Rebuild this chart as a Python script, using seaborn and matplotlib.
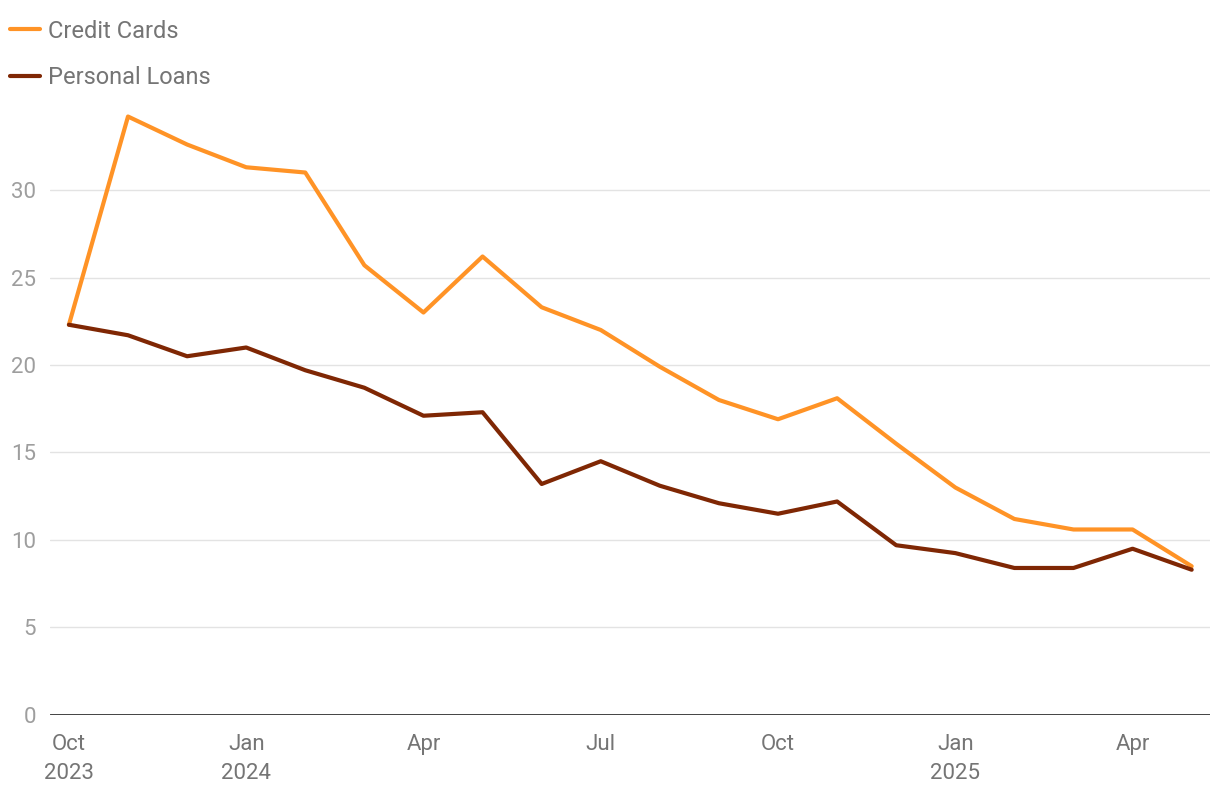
import numpy as np
import pandas as pd
import matplotlib
matplotlib.use("Agg")
import matplotlib.pyplot as plt
import seaborn as sns

months = pd.date_range("2023-10-01", periods=20, freq="MS")
credit_cards = [22.3, 34.2, 32.6, 31.3, 31.0, 25.7, 23.0, 26.2, 23.3, 22.0,
                19.9, 18.0, 16.9, 18.1, 15.5, 13.0, 11.2, 10.6, 10.6, 8.5]
personal_loans = [22.3, 21.7, 20.5, 21.0, 19.7, 18.7, 17.1, 17.3, 13.2, 14.5,
                  13.1, 12.1, 11.5, 12.2, 9.7, 9.25, 8.4, 8.4, 9.5, 8.3]
series_names = ["Credit Cards", "Personal Loans"]
colors = ["#FF9326", "#7F2704"]
y_ticks = [0, 5, 10, 15, 20, 25, 30]

df = pd.DataFrame({
    "idx": np.tile(np.arange(len(months)), 2),
    "value": credit_cards + personal_loans,
    "series": np.repeat(series_names, len(months)),
})

sns.set_theme(style="white")
plt.rcParams["font.family"] = ["Roboto", "DejaVu Sans"]

fig = plt.figure(figsize=(12.2, 7.96), dpi=100)
ax = fig.add_axes([50 / 1220, 0.1018, 1160 / 1220, 0.7694])

sns.lineplot(data=df, x="idx", y="value", hue="series", palette=colors,
             linewidth=3, ax=ax, legend=False)

ax.set_xlim(-0.32, 19.31)
ax.set_ylim(0, 35)
ax.set_yticks(y_ticks)
ax.yaxis.grid(True, color="#e3e3e3", linewidth=1)
ax.set_axisbelow(True)
ax.axhline(0, color="#333333", linewidth=2, zorder=3)

tick_idx = list(range(0, len(months), 3))
tick_labels = []
for i in tick_idx:
    m = months[i]
    lab = m.strftime("%b")
    if i == 0 or m.month == 1:
        lab += "\n" + m.strftime("%Y")
    tick_labels.append(lab)
ax.set_xticks(tick_idx)
ax.set_xticklabels(tick_labels, fontsize=16, color="#757575", linespacing=1.5,
                   va="top")
ax.tick_params(axis="x", length=0, pad=13.5)
ax.tick_params(axis="y", length=0, pad=10, labelsize=16, labelcolor="#9e9e9e")
for s in ax.spines.values():
    s.set_visible(False)
ax.set_xlabel("")
ax.set_ylabel("")

handles = [plt.Line2D([], [], color=c, linewidth=3) for c in colors]
fig.legend(handles, series_names, loc="upper left",
           bbox_to_anchor=(5 / 1220, 1 - 15 / 796),
           frameon=False, fontsize=17, labelcolor="#757575", handlelength=1.3,
           handletextpad=0.3, labelspacing=1.0, borderaxespad=0, borderpad=0.2)

fig.savefig("out.png", dpi=100)
